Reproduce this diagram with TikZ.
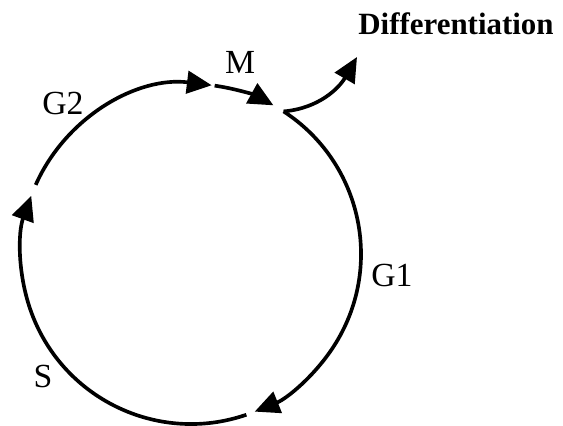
\documentclass[tikz,border=0pt]{standalone}
\usepackage{fontspec}
\setmainfont{Liberation Serif}
\usetikzlibrary{arrows.meta,calc}

\tikzset{
  phase/.style={line width=2.6pt, -{Triangle[length=0.62cm, width=0.56cm]}},
  phaselabel/.style={font=\fontsize{24}{28}\selectfont, inner sep=0pt}
}

\begin{document}
\begin{tikzpicture}
\useasboundingbox (0,0) rectangle (14.075,10.65);

% === CYCLE ===
\def\rad{4.25}
\coordinate (c) at (4.775,4.3);
\coordinate (g2start) at ($(c)+(156:\rad)$);
\coordinate (mstart) at ($(c)+(82:\rad)$);
\coordinate (g1start) at ($(c)+(57:\rad)$);
\coordinate (sstart) at ($(c)+(-71:\rad)$);

\draw[phase] (g2start) arc[start angle=156, end angle=83, radius=\rad];
\draw[phase] (mstart) arc[start angle=82, end angle=61, radius=\rad];
\draw[phase] (g1start) arc[start angle=57, end angle=-68, radius=\rad];
\draw[phase] (sstart) arc[start angle=-71, end angle=-200, radius=\rad];

% === LABELS ===
\node[phaselabel] (g2) at (1.575,8.075) {G2};
\node[phaselabel] (m) at (6.0,9.1) {M};
\node[phaselabel] (g1) at (9.8,3.775) {G1};
\node[phaselabel] (s) at (1.075,1.25) {S};

% === EXIT ===
\node[font=\bfseries\fontsize{22}{26}\selectfont, inner sep=0pt] (diff) at (11.4,10.05) {Differentiation};
\coordinate (difftip) at (8.925,9.225);
\draw[phase] (g1start) to[out=5, in=240] (difftip);

\end{tikzpicture}
\end{document}
